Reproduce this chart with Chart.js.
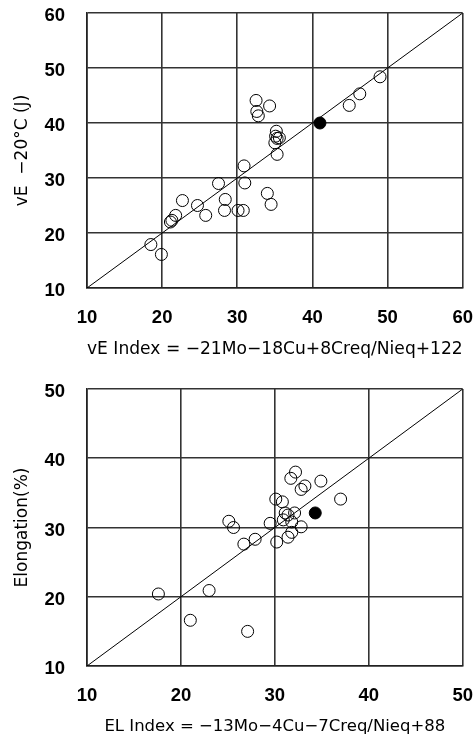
<!DOCTYPE html>
<html lang="en">

<head>
    <meta charset="UTF-8">
    <title>vE / Elongation index</title>
    <script src="https://cdn.jsdelivr.net/npm/chart.js"></script>
    <style>
        body { margin: 0; background: #fff; }
        canvas { position: absolute; left: 0; }
    </style>
</head>

<body>
    <canvas id="veChart" width="473" height="370" style="top:0"></canvas>
    <canvas id="elChart" width="473" height="367" style="top:370px"></canvas>

    <script>
        // top chart: vE -20C vs vE index
        const veIndex = [18.5, 19.9, 21.1, 21.3, 21.8, 22.7, 24.7, 25.8, 27.5, 28.4, 28.3, 30.1, 30.8, 30.9, 31.0,
            32.5, 32.6, 32.8, 34.3, 34.0, 34.5, 35.2, 35.1, 35.6, 35.0, 35.3, 35.3, 44.9, 46.3, 49.0];
        const veEnergy = [17.9, 16.1, 22.0, 22.3, 23.2, 25.9, 25.0, 23.2, 29.0, 26.1, 24.1, 24.1, 24.1, 32.2, 29.1,
            44.1, 42.1, 41.3, 43.1, 27.2, 25.2, 38.5, 37.6, 37.3, 36.4, 37.2, 34.3, 43.2, 45.3, 48.4];
        const veMarkedX = [41.0];
        const veMarkedY = [40.0];
        const veTicks = [10, 20, 30, 40, 50, 60];

        // bottom chart: elongation vs EL index
        const elIndex = [17.6, 21.0, 23.0, 27.1, 25.1, 25.6, 26.7, 27.9, 29.5, 30.1, 30.8, 30.2, 31.4, 31.8, 31.1,
            31.4, 32.1, 30.9, 31.8, 32.8, 31.7, 32.2, 32.8, 33.2, 34.9, 37.0];
        const elongation = [20.4, 16.6, 20.9, 15.0, 30.9, 30.0, 27.6, 28.3, 30.6, 34.1, 33.7, 27.9, 28.6, 29.3, 32.1,
            31.8, 32.1, 31.1, 30.8, 30.1, 37.1, 38.0, 35.5, 36.0, 36.7, 34.1];
        const elMarkedX = [34.3];
        const elMarkedY = [32.1];
        const elTicks = [10, 20, 30, 40, 50];

        const tickFont = { family: "'Liberation Sans', Arial, sans-serif", size: 18.5, weight: 'bold' };
        const titleFamily = "'DejaVu Sans', sans-serif";

        function makeChart(id, xs, ys, mx, my, ticks, xTitle, yTitle, opt) {
            const lo = ticks[0], hi = ticks[ticks.length - 1];
            // tick marks are invisible, their length just pushes the labels away from the frame
            const grid = len => ({ color: '#333', lineWidth: 1.6, drawTicks: true, tickLength: len, tickColor: 'rgba(0,0,0,0)' });
            return new Chart(document.getElementById(id), {
                type: 'scatter',
                data: {
                    datasets: [
                        {
                            data: [{ x: lo, y: lo }, { x: hi, y: hi }],
                            showLine: true,
                            borderColor: '#000',
                            borderWidth: 1,
                            pointRadius: 0
                        },
                        {
                            data: xs.map((x, i) => ({ x: x, y: ys[i] })),
                            pointRadius: 6,
                            borderColor: '#000',
                            borderWidth: 1,
                            backgroundColor: 'rgba(0,0,0,0)'
                        },
                        {
                            data: mx.map((x, i) => ({ x: x, y: my[i] })),
                            pointRadius: 6,
                            borderColor: '#000',
                            backgroundColor: '#000'
                        }
                    ]
                },
                options: {
                    responsive: false,
                    animation: false,
                    layout: { padding: { top: opt.top, right: 10, left: 0, bottom: 0 } },
                    plugins: { legend: { display: false }, tooltip: { enabled: false } },
                    scales: {
                        x: {
                            type: 'linear', min: lo, max: hi,
                            border: { color: '#222', width: 1.6 },
                            grid: grid(19),
                            ticks: { stepSize: 10, color: '#000', font: tickFont, padding: 0 },
                            title: { display: true, text: xTitle, color: '#000', font: { family: titleFamily, size: opt.xTitleSize }, padding: { top: 0, bottom: opt.xTitlePad } },
                            afterFit: s => { s.height = opt.xHeight; }
                        },
                        y: {
                            type: 'linear', min: lo, max: hi,
                            border: { color: '#222', width: 1.6 },
                            grid: grid(22),
                            ticks: { stepSize: 10, color: '#000', font: tickFont, padding: 0, labelOffset: 3 },
                            title: { display: true, text: yTitle, color: '#000', font: { family: titleFamily, size: 17 }, padding: { top: 12, bottom: 0 } },
                            afterFit: s => { s.width = 87; }
                        }
                    }
                }
            });
        }

        makeChart('veChart', veIndex, veEnergy, veMarkedX, veMarkedY, veTicks,
            'vE Index = \u221221Mo\u221218Cu+8Creq/Nieq+122', 'vE  \u221220\u00b0C (J)',
            { top: 13, xHeight: 82, xTitlePad: 10, xTitleSize: 17.5 });

        makeChart('elChart', elIndex, elongation, elMarkedX, elMarkedY, elTicks,
            'EL Index = \u221213Mo\u22124Cu\u22127Creq/Nieq+88', 'Elongation(%)',
            { top: 19, xHeight: 71, xTitlePad: 0, xTitleSize: 16.5 });
    </script>
</body>

</html>
